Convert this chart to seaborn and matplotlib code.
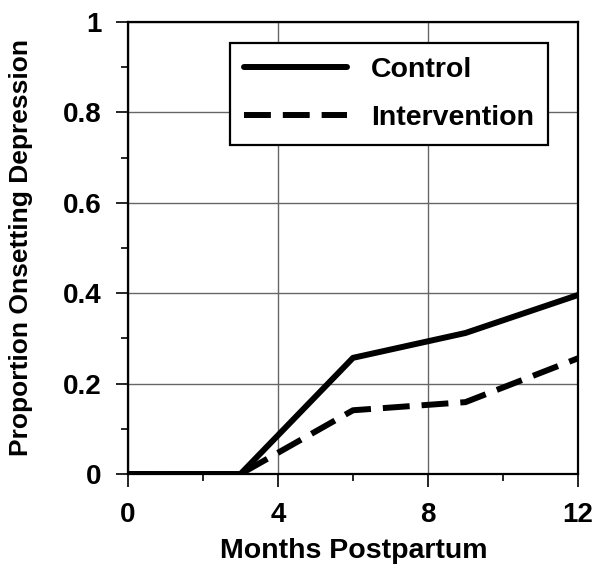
import matplotlib.pyplot as plt
import seaborn as sns
import pandas as pd

months = [0, 3, 6, 9, 12]
control = [0.0, 0.0, 0.257, 0.312, 0.396]
intervention = [0.0, 0.0, 0.141, 0.159, 0.256]

df = pd.DataFrame({
    'month': months * 2,
    'prop': control + intervention,
    'group': ['Control'] * len(months) + ['Intervention'] * len(months),
})

sns.set_theme(style="white")
plt.rcParams['font.family'] = ['Liberation Sans', 'DejaVu Sans']
plt.rcParams['font.weight'] = 'bold'
plt.rcParams['text.color'] = 'black'
plt.rcParams['axes.labelcolor'] = 'black'
plt.rcParams['xtick.color'] = 'black'
plt.rcParams['ytick.color'] = 'black'

fig = plt.figure(figsize=(6.02, 5.75), dpi=100)
ax = fig.add_axes([128 / 602, 1 - 474 / 575, 450 / 602, 452 / 575])

sns.lineplot(data=df, x='month', y='prop', style='group', color='black',
             linewidth=4.3, dashes={'Control': '', 'Intervention': (4.5, 2)},
             ax=ax)

ax.set_xlim(0, 12)
ax.set_ylim(0, 1)
ax.set_xticks([0, 4, 8, 12])
ax.set_xticks([2, 6, 10], minor=True)
ax.set_yticks([0, 0.2, 0.4, 0.6, 0.8, 1.0])
ax.set_yticklabels(['0', '0.2', '0.4', '0.6', '0.8', '1'])
ax.set_yticks([0.1, 0.3, 0.5, 0.7, 0.9], minor=True)
ax.grid(True, which='major', color='#666666', linewidth=1)
ax.tick_params(which='both', direction='out', color='black', width=1.2,
               labelsize=20, bottom=True, left=True)
ax.tick_params(which='major', length=9)
ax.tick_params(axis='x', which='major', pad=11)
ax.tick_params(axis='y', which='major', pad=10)
ax.tick_params(which='minor', length=5)
for s in ax.spines.values():
    s.set_color('black')
    s.set_linewidth(1.6)

ax.set_xlabel('Months Postpartum', fontsize=20.5, fontweight='bold')
ax.set_ylabel('Proportion Onsetting Depression', fontsize=19, fontweight='bold')
ax.xaxis.set_label_coords(0.502, -0.142)
ax.yaxis.set_label_coords(-0.21, 0.501)

leg = ax.legend(loc='upper left', bbox_to_anchor=(230 / 602, 1 - 43 / 575),
                bbox_transform=fig.transFigure, fontsize=20.5, frameon=True,
                fancybox=False, edgecolor='black', handlelength=3.6,
                borderpad=0.5, labelspacing=0.75, handletextpad=0.85,
                borderaxespad=0)
leg.get_frame().set_linewidth(1.6)
leg.get_frame().set_alpha(1)
for t in leg.get_texts():
    t.set_fontweight('bold')

fig.savefig('out.png', dpi=100)
